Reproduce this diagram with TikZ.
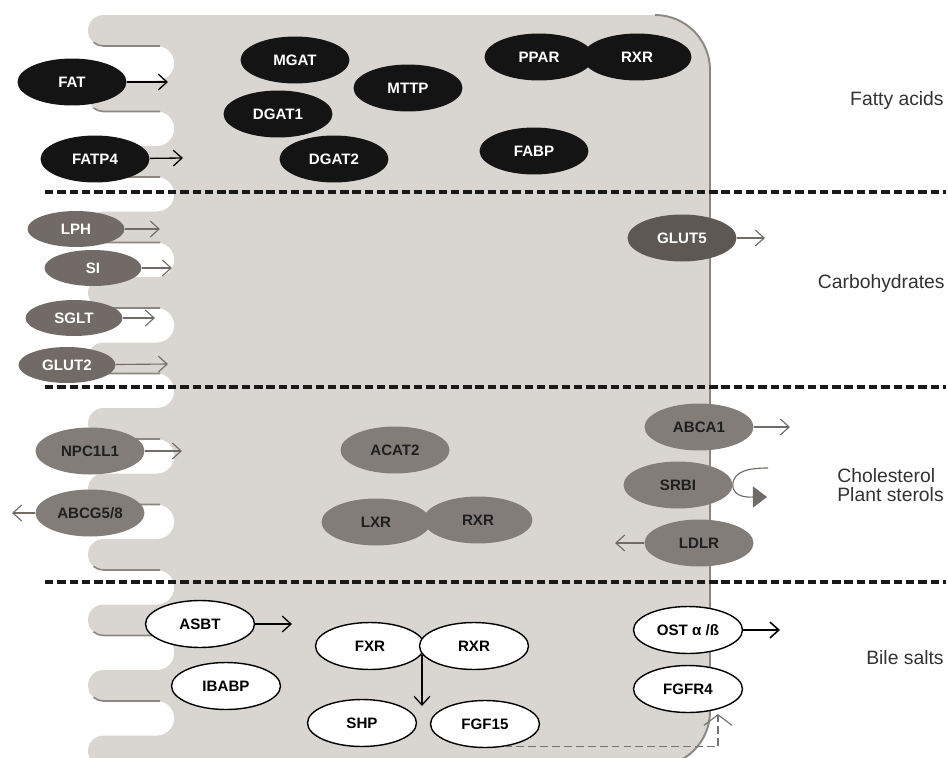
\documentclass[tikz,border=0pt]{standalone}
\usepackage{fontspec}
\setmainfont{Liberation Sans}
\usepackage{tikz}
\usetikzlibrary{shapes.geometric,arrows.meta,positioning}
\definecolor{cellgray}{RGB}{217,214,210}
\definecolor{celledge}{RGB}{140,135,131}
\definecolor{carbgray}{RGB}{113,106,102}
\definecolor{glutgray}{RGB}{94,88,84}
\definecolor{cholgray}{RGB}{131,125,121}
\definecolor{arrowgray}{RGB}{112,107,103}
\definecolor{labelgray}{RGB}{50,50,50}

\begin{document}
\begin{tikzpicture}[x=0.02cm, y=0.02cm, >={Straight Barb[length=5pt,width=9pt]},
        prot/.style={ellipse, inner sep=0pt, minimum width=2.18cm, minimum height=0.94cm, font=\bfseries\fontsize{8.6}{10}\selectfont},
        fatprot/.style={prot, fill=black!92, text=white},
        carbprot/.style={prot, fill=carbgray, text=white, minimum width=1.94cm, minimum height=0.72cm},
        cholprot/.style={prot, fill=cholgray, text=black!88},
        bileprot/.style={prot, fill=white, draw=black, line width=0.8pt, text=black},
        sectlabel/.style={inner sep=0pt, font=\fontsize{11}{10.5}\selectfont, text=labelgray, align=left},
        sepline/.style={black!90, line width=1.9pt, dash pattern=on 4.8pt off 2.2pt},
        blackarrow/.style={->, line width=0.75pt, black},
        grayarrow/.style={->, line width=0.65pt, arrowgray}]
    \useasboundingbox (0,0) rectangle (948,-758);

        % Cell body with microvilli
        \begin{scope}
            \clip (0,0) rectangle (948,-758);
            \fill[cellgray] (655,-15)
                \foreach \t in {15,80.5,146,211.5,277,342.5,408,473.5,539,604.5,670} {
                    -- (103.5,-\t) arc[start angle=90, end angle=270, radius=15.5]
                    -- (157,-\t-31) arc[start angle=90, end angle=-90, radius=17.25]
                }
                -- (103.5,-735.5) arc[start angle=90, end angle=270, radius=15.5]
                -- (655,-766.5) arc[start angle=270, end angle=360, radius=55]
                -- (710,-70) arc[start angle=0, end angle=90, radius=55] -- cycle;
            \foreach \t in {15,80.5,146,211.5,277,342.5,408,473.5,539,604.5,670}
                \draw[celledge, line width=0.9pt] (103.5,-\t-15.5) ++(230:15.5) arc[start angle=230, end angle=270, radius=15.5] -- (160,-\t-31);
            \draw[celledge, line width=1.1pt] (655,-15) arc[start angle=90, end angle=0, radius=55] -- (710,-711.5) arc[start angle=0, end angle=-90, radius=55];
        \end{scope}

        % Section separators
        \draw[sepline] (45,-192) -- (946,-192);
        \draw[sepline] (45,-387) -- (946,-387);
        \draw[sepline] (45,-582) -- (946,-582);

        % Fatty acids
        \node[fatprot] (fat) at (72,-82) {FAT};
        \node[fatprot] (fatp4) at (95,-159) {FATP4};
        \node[fatprot] (mgat) at (295,-60) {MGAT};
        \node[fatprot] (mttp) at (408,-88) {MTTP};
        \node[fatprot] (dgat1) at (278,-114) {DGAT1};
        \node[fatprot] (dgat2) at (334,-159) {DGAT2};
        \node[fatprot] (ppar) at (539,-57) {PPAR};
        \node[fatprot] (rxrfa) at (637,-57) {RXR};
        \node[fatprot] (fabp) at (534,-151) {FABP};

        % Carbohydrates
        \node[carbprot] (lph) at (76,-229) {LPH};
        \node[carbprot] (si) at (93,-268) {SI};
        \node[carbprot] (sglt) at (74,-318) {SGLT};
        \node[carbprot] (glut2) at (67,-365) {GLUT2};
        \node[prot, fill=glutgray, text=white] (glut5) at (682,-238) {GLUT5};

        % Cholesterol and plant sterols
        \node[cholprot] (npc1l1) at (90,-451) {NPC1L1};
        \node[cholprot] (abcg58) at (90,-513) {ABCG5/8};
        \node[cholprot] (acat2) at (395,-450) {ACAT2};
        \node[cholprot] (lxr) at (376,-522) {LXR};
        \node[cholprot] (rxrch) at (478,-520) {RXR};
        \node[cholprot] (abca1) at (699,-427) {ABCA1};
        \node[cholprot] (srbi) at (678,-485) {SRBI};
        \node[cholprot] (ldlr) at (699,-543) {LDLR};

        % Bile salts
        \node[bileprot] (asbt) at (200,-624) {ASBT};
        \node[bileprot] (ibabp) at (226,-686) {IBABP};
        \node[bileprot] (fxr) at (370,-646) {FXR};
        \node[bileprot] (rxrbs) at (474,-646) {RXR};
        \node[bileprot] (shp) at (362,-723) {SHP};
        \node[bileprot] (fgf15) at (485,-724) {FGF15};
        \node[bileprot] (ost) at (688,-630) {OST α /ß};
        \node[bileprot] (fgfr4) at (688,-689) {FGFR4};

        % Section labels
        \node[sectlabel, anchor=east] (fattylbl) at (944,-100) {Fatty acids};
        \node[sectlabel, anchor=east] (carblbl) at (945,-283) {Carbohydrates};
        \node[sectlabel, anchor=west] (chollbl) at (837,-485) {Cholesterol\\Plant sterols};
        \node[sectlabel, anchor=east] (bilelbl) at (944,-658) {Bile salts};

        % Free ends of the transport arrows
        \coordinate (fatend) at (168,-82);
        \coordinate (fatp4end) at (183,-158);
        \coordinate (lphend) at (160,-229);
        \coordinate (siend) at (172,-268);
        \coordinate (sgltend) at (155,-318);
        \coordinate (glut2end) at (168,-364);
        \coordinate (glut5end) at (765,-238);
        \coordinate (npcend) at (182,-451);
        \coordinate (abcgend) at (12,-513);
        \coordinate (abca1end) at (790,-427);
        \coordinate (ldlrend) at (615,-543);
        \coordinate (srbistart) at (768,-468);
        \coordinate (srbitip) at (767,-497);
        \coordinate (asbtend) at (292,-624);
        \coordinate (fxrjoin) at (422,-655);
        \coordinate (shpend) at (422,-706);
        \coordinate (ostend) at (780,-630);
        \coordinate (fgfr4tip) at (718,-714);

        % Arrows
        \draw[blackarrow] (fat) -- (fatend);
        \draw[blackarrow] (fatp4) -- (fatp4end);
        \draw[grayarrow] (lph) -- (lphend);
        \draw[grayarrow] (si) -- (siend);
        \draw[grayarrow] (sglt) -- (sgltend);
        \draw[grayarrow] (glut2) -- (glut2end);
        \draw[grayarrow] (glut5) -- (glut5end);
        \draw[grayarrow] (npc1l1) -- (npcend);
        \draw[grayarrow] (abcg58) -- (abcgend);
        \draw[grayarrow] (abca1) -- (abca1end);
        \draw[grayarrow] (ldlr) -- (ldlrend);
        \draw[line width=0.65pt, arrowgray, -{Triangle[length=8pt,width=12pt]}] (srbistart) to[out=180, in=90] (srbi.east) to[out=-90, in=180] (srbitip);
        \draw[blackarrow] (asbt) -- (asbtend);
        \draw[blackarrow] (fxrjoin) -- (shpend);
        \draw[blackarrow, line width=0.9pt] (ost) -- (ostend);
        \draw[line width=0.7pt, black!55, dash pattern=on 4.5pt off 2.3pt, -{Straight Barb[length=6pt,width=16pt]}] (fgf15.-50) -| (fgfr4tip);
\end{tikzpicture}
\end{document}
